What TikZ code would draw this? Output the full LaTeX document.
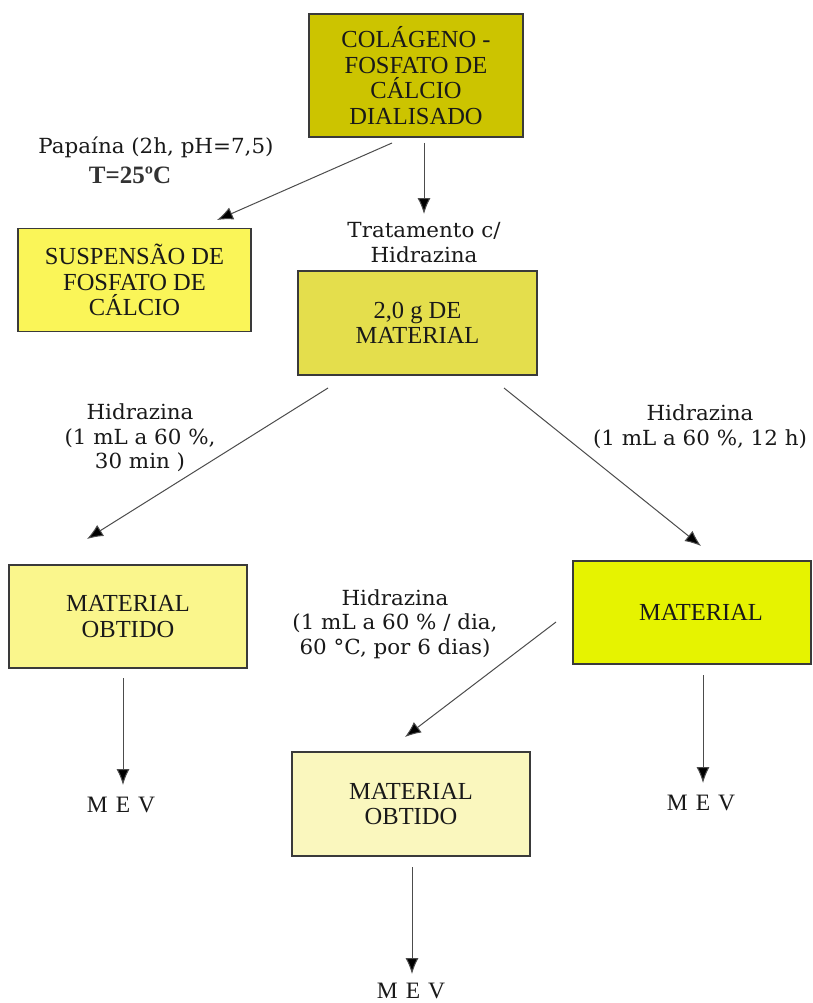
\documentclass[tikz,border=0pt]{standalone}
\usepackage{fontspec}
\setmainfont{Liberation Serif}
\newfontfamily\labelfont{DejaVu Serif}[FakeStretch=1.03]
\usetikzlibrary{arrows.meta}

\definecolor{boxline}{RGB}{58,58,58}
\definecolor{inkc}{RGB}{25,25,25}
\definecolor{olivefill}{RGB}{204,196,0}
\definecolor{suspfill}{RGB}{250,245,88}
\definecolor{massfill}{RGB}{228,222,76}
\definecolor{paleyel}{RGB}{250,246,140}
\definecolor{limefill}{RGB}{230,243,0}
\definecolor{creamfill}{RGB}{250,247,190}

\begin{document}
\begin{tikzpicture}[x=1pt,y=-1pt,
  box/.style={draw=boxline, line width=1.3pt, align=center, inner sep=0pt,
    text=inkc, font=\fontsize{24.5}{25.5}\selectfont},
  flow/.style={draw=black!70, line width=1pt,
    -{Latex[length=16pt,width=13pt,fill=black]}},
  lab/.style={align=center, inner sep=0pt, text=inkc,
    font=\labelfont\fontsize{20.8}{24.5}\selectfont},
  mev/.style={inner sep=0pt, text=inkc, font=\fontsize{23.5}{23.5}\selectfont}]

% page frame
\useasboundingbox (0,0) rectangle (812,1003);
\fill[white] (0,0) rectangle (812,1003);

% process boxes
\node[box, fill=olivefill, minimum width=214pt, minimum height=123pt]
  (col) at (416,75.5) {COLÁGENO -\\FOSFATO DE\\CÁLCIO\\DIALISADO};
\node[box, fill=suspfill, minimum width=233pt, minimum height=103pt]
  (susp) at (134.5,280) {SUSPENSÃO DE\\FOSFATO DE\\CÁLCIO};
\node[box, fill=massfill, minimum width=239pt, minimum height=104pt]
  (mass) at (417.5,323) {2,0 g DE\\MATERIAL};
\node[box, fill=paleyel, minimum width=238pt, minimum height=103pt]
  (obtA) at (128,616.5) {MATERIAL\\OBTIDO};
\node[box, fill=limefill, minimum width=238pt, minimum height=103pt]
  (mat) at (692,612.5) {\hspace*{18pt}MATERIAL};
\node[box, fill=creamfill, minimum width=238pt, minimum height=104pt]
  (obtB) at (411,804) {MATERIAL\\OBTIDO};

% condition labels
\node[lab] (papain) at (156,147) {Papaína (2h, pH=7,5)};
\node[inner sep=0pt, text=black!80, font=\bfseries\fontsize{25}{25}\selectfont]
  (temp) at (130,175) {T=25ºC};
\node[lab] (hydA) at (424,242.5) {Tratamento c/\\Hidrazina};
\node[lab] (hydB) at (140,438) {Hidrazina\\(1 mL a 60 \%,\\30 min )};
\node[lab] (hydC) at (700,426.5) {Hidrazina\\(1 mL a 60 \%, 12 h)};
\node[lab] (hydD) at (395,624) {Hidrazina\\(1 mL a 60 \% / dia,\\60 °C, por 6 dias)};

% analysis targets
\node[mev] (mevA) at (121,805) {\spaceskip=8pt\relax M E V};
\node[mev] (mevB) at (701,803) {\spaceskip=8pt\relax M E V};
\node[mev] (mevC) at (411,991) {\spaceskip=8pt\relax M E V};

% connector end points
\coordinate (pA) at (392,143);
\coordinate (pB) at (217,220);
\coordinate (tA) at (424,143);
\coordinate (tB) at (424,214);
\coordinate (lA) at (328,388);
\coordinate (lB) at (87,539);
\coordinate (rA) at (504,388);
\coordinate (rB) at (701,546);
\coordinate (mA) at (556,622);
\coordinate (mB) at (405,737);
\coordinate (aA) at (123,678);
\coordinate (aB) at (123,785);
\coordinate (bA) at (703,675);
\coordinate (bB) at (703,783);
\coordinate (cA) at (412,867);
\coordinate (cB) at (412,974);

% connectors
\draw[flow] (pA) -- (pB);
\draw[flow] (tA) -- (tB);
\draw[flow] (lA) -- (lB);
\draw[flow] (rA) -- (rB);
\draw[flow] (mA) -- (mB);
\draw[flow] (aA) -- (aB);
\draw[flow] (bA) -- (bB);
\draw[flow] (cA) -- (cB);
\end{tikzpicture}
\end{document}
